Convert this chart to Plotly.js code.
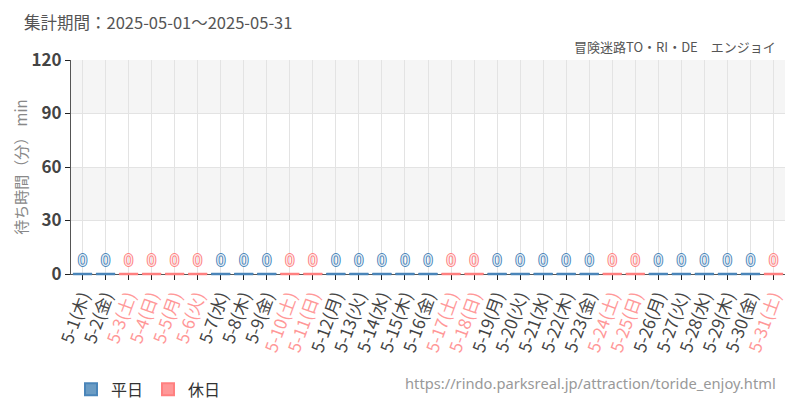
<!DOCTYPE html>
<html>
<head>
<meta charset="utf-8">
<script src="https://cdn.plot.ly/plotly-3.0.1.min.js"></script>
<style>
  html, body { margin: 0; padding: 0; background: #fff; }
  #chart { width: 800px; height: 400px; }
</style>
</head>
<body>
<div id="chart"></div>
<script>
// 集計期間 2025-05-01 ~ 2025-05-31
var days = ['5-1', '5-2', '5-3', '5-4', '5-5', '5-6', '5-7', '5-8', '5-9', '5-10',
            '5-11', '5-12', '5-13', '5-14', '5-15', '5-16', '5-17', '5-18', '5-19', '5-20',
            '5-21', '5-22', '5-23', '5-24', '5-25', '5-26', '5-27', '5-28', '5-29', '5-30', '5-31'];
var weekdays = ['木', '金', '土', '日', '月', '火', '水', '木', '金', '土',
                '日', '月', '火', '水', '木', '金', '土', '日', '月', '火',
                '水', '木', '金', '土', '日', '月', '火', '水', '木', '金', '土'];
// 1 = 休日
var holiday = [0, 0, 1, 1, 1, 1, 0, 0, 0, 1,
               1, 0, 0, 0, 0, 0, 1, 1, 0, 0,
               0, 0, 0, 1, 1, 0, 0, 0, 0, 0, 1];
// 平均待ち時間 (分)
var waitTimes = [0, 0, 0, 0, 0, 0, 0, 0, 0, 0,
                 0, 0, 0, 0, 0, 0, 0, 0, 0, 0,
                 0, 0, 0, 0, 0, 0, 0, 0, 0, 0, 0];
var yTicks = [0, 30, 60, 90, 120];

var BLUE = '#6b9cc4', BLUE_LINE = '#4a85b9';
var PINK = '#ff9898', PINK_LINE = '#ff8080';

var cats = days.map(function (d, i) { return d + '(' + weekdays[i] + ')'; });
var tickText = cats.map(function (c, i) {
    return holiday[i] ? '<span style="color:' + PINK + '">' + c + '</span>' : c;
});

function pick(flag) {
    var x = [], y = [];
    cats.forEach(function (c, i) {
        if (holiday[i] === flag) { x.push(c); y.push(waitTimes[i]); }
    });
    return {x: x, y: y};
}

function outline(col) {
    return '1px 0 0 ' + col + ', -1px 0 0 ' + col + ', 0 1px 0 ' + col + ', 0 -1px 0 ' + col;
}

var wk = pick(0), hd = pick(1);

function barTrace(name, d, fill, line, textFill) {
    return {
        name: name, type: 'bar', x: d.x, y: d.y,
        marker: {color: fill, line: {color: line, width: 2}},
        text: d.y.map(String), textposition: 'outside', cliponaxis: false,
        textfont: {family: 'Noto Sans', size: 16, color: textFill, shadow: outline(line)},
        hoverinfo: 'none'
    };
}

// zero-height bars are dropped by plotly, so the bar top is drawn as a short dash
function capTrace(d, line) {
    return {
        type: 'scatter', mode: 'markers', x: d.x, y: d.y, showlegend: false,
        cliponaxis: false, hoverinfo: 'none',
        marker: {symbol: 'line-ew-open', size: 13.5, color: line, line: {color: line, width: 2.5}}
    };
}

var traces = [
    barTrace('平日', wk, BLUE, BLUE_LINE, '#e6eef5'),
    barTrace('休日', hd, PINK, PINK_LINE, '#fde9e9'),
    capTrace(wk, BLUE_LINE),
    capTrace(hd, PINK_LINE)
];

// alternating background bands
var bands = [];
for (var k = 1; k < yTicks.length - 1; k += 2) {
    bands.push({
        type: 'rect', xref: 'paper', yref: 'y', x0: 0, x1: 1,
        y0: yTicks[k], y1: yTicks[k + 1], layer: 'below',
        fillcolor: '#f5f5f5', line: {width: 0}
    });
}

var layout = {
    width: 800, height: 400,
    margin: {l: 71, r: 15, t: 60, b: 126, autoexpand: false},
    paper_bgcolor: '#fff', plot_bgcolor: '#fff',
    font: {family: 'Noto Sans CJK JP, Noto Sans, sans-serif', color: '#444'},
    barmode: 'overlay', bargap: 0.16,
    showlegend: true,
    legend: {
        orientation: 'h', x: 0, xanchor: 'left', y: -0.46, yanchor: 'top',
        font: {size: 16, color: '#333'}, itemwidth: 30, traceorder: 'normal'
    },
    xaxis: {
        type: 'category', categoryorder: 'array', categoryarray: cats,
        range: [-0.5, cats.length - 0.5], layer: 'below traces',
        tickvals: cats, ticktext: tickText, tickangle: -70, automargin: false,
        tickfont: {size: 17, color: '#444'},
        showgrid: true, gridcolor: '#e3e3e3', gridwidth: 1,
        ticks: 'outside', ticklen: 5, tickcolor: '#222',
        showline: true, linecolor: '#555', linewidth: 1,
        zeroline: false, fixedrange: true
    },
    yaxis: {
        range: [0, 120], tickvals: yTicks, automargin: false,
        tickfont: {size: 17, color: '#444', weight: 'bold'},
        showgrid: true, gridcolor: '#e3e3e3', gridwidth: 1,
        ticks: 'outside', ticklen: 5, tickcolor: '#222',
        showline: true, linecolor: '#555', linewidth: 1,
        zeroline: false, fixedrange: true,
        title: {text: '待ち時間（分） min', font: {size: 15, color: '#888'}, standoff: 0}
    },
    shapes: bands,
    annotations: [
        {
            text: '集計期間：2025-05-01～2025-05-31', xref: 'paper', yref: 'paper',
            x: -0.068, y: 1.178, xanchor: 'left', yanchor: 'middle', showarrow: false,
            font: {size: 16.5, color: '#555'}
        },
        {
            text: '冒険迷路TO・RI・DE　エンジョイ', xref: 'paper', yref: 'paper',
            x: 0.99, y: 1.061, xanchor: 'right', yanchor: 'middle', showarrow: false,
            font: {size: 13, color: '#555'}
        },
        {
            text: 'https://rindo.parksreal.jp/attraction/toride_enjoy.html', xref: 'paper', yref: 'paper',
            x: 0.99, y: -0.509, xanchor: 'right', yanchor: 'middle', showarrow: false,
            font: {family: 'Liberation Sans Narrow, Noto Sans, sans-serif', size: 14.7, color: '#999'}
        }
    ]
};

Plotly.newPlot('chart', traces, layout, {displayModeBar: false, staticPlot: true});
</script>
</body>
</html>
